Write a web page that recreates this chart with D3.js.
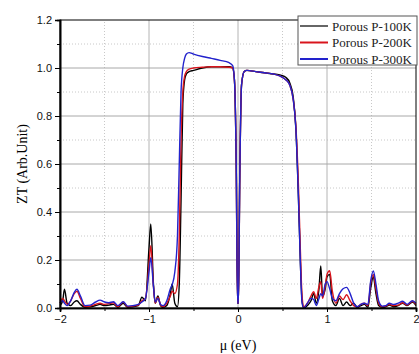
<!DOCTYPE html>
<html>
<head>
<meta charset="utf-8">
<script src="https://cdn.jsdelivr.net/npm/d3@7"></script>
<style>
  body { margin: 0; background: #fff; }
  svg { display: block; }
</style>
</head>
<body>
<div id="chart"></div>
<script>
// Data
const mu = [-2.00, -1.97, -1.95, -1.92, -1.88, -1.84, -1.81, -1.77, -1.72, -1.66, -1.60, -1.55, -1.50, -1.45, -1.40, -1.35, -1.29, -1.24, -1.18, -1.12, -1.08, -1.04, -1.00, -0.98, -0.95, -0.93, -0.90, -0.87, -0.84, -0.80, -0.76, -0.74, -0.71, -0.68, -0.66, -0.64, -0.62, -0.60, -0.58, -0.55, -0.50, -0.40, -0.30, -0.20, -0.10, -0.06, -0.04, -0.02, -0.005, 0.005, 0.02, 0.04, 0.07, 0.10, 0.20, 0.30, 0.40, 0.48, 0.54, 0.58, 0.62, 0.65, 0.68, 0.70, 0.72, 0.74, 0.78, 0.82, 0.85, 0.88, 0.91, 0.93, 0.95, 0.98, 1.00, 1.03, 1.06, 1.10, 1.14, 1.18, 1.22, 1.26, 1.30, 1.34, 1.38, 1.42, 1.46, 1.49, 1.52, 1.55, 1.58, 1.62, 1.66, 1.70, 1.75, 1.80, 1.85, 1.90, 1.96, 2.00];

const zt100 = [0.01, 0.03, 0.078, 0.02, 0.01, 0.025, 0.03, 0.015, 0.003, 0.005, 0.01, 0.015, 0.01, 0.012, 0.015, 0.003, 0.02, 0.003, 0.005, 0.01, 0.045, 0.03, 0.25, 0.35, 0.10, 0.02, 0.05, 0.01, 0.002, 0.01, 0.06, 0.10, 0.02, 0.005, 0.10, 0.45, 0.85, 0.95, 0.975, 0.985, 0.99, 1.0, 1.005, 1.005, 1.005, 1.0, 0.95, 0.6, 0.02, 0.02, 0.55, 0.93, 0.985, 0.99, 0.985, 0.98, 0.975, 0.97, 0.96, 0.94, 0.88, 0.75, 0.45, 0.2, 0.03, 0.0, 0.01, 0.03, 0.06, 0.02, 0.08, 0.175, 0.05, 0.08, 0.13, 0.14, 0.03, 0.01, 0.04, 0.01, 0.025, 0.01, 0.02, 0.002, 0.01, 0.015, 0.003, 0.08, 0.13, 0.06, 0.01, 0.003, 0.005, 0.012, 0.005, 0.01, 0.02, 0.01, 0.025, 0.01];

const zt200 = [0.02, 0.04, 0.03, 0.015, 0.03, 0.06, 0.07, 0.04, 0.005, 0.008, 0.015, 0.02, 0.015, 0.018, 0.022, 0.005, 0.025, 0.005, 0.008, 0.012, 0.03, 0.04, 0.18, 0.26, 0.09, 0.02, 0.045, 0.012, 0.005, 0.02, 0.05, 0.07, 0.06, 0.10, 0.3, 0.7, 0.9, 0.965, 0.985, 0.995, 1.0, 1.003, 1.005, 1.005, 1.003, 1.0, 0.95, 0.6, 0.02, 0.02, 0.55, 0.93, 0.985, 0.99, 0.985, 0.98, 0.975, 0.965, 0.95, 0.93, 0.87, 0.76, 0.5, 0.25, 0.05, 0.005, 0.02, 0.05, 0.068, 0.04, 0.09, 0.11, 0.04, 0.09, 0.14, 0.155, 0.07, 0.02, 0.05, 0.035, 0.055, 0.03, 0.01, 0.005, 0.015, 0.02, 0.01, 0.1, 0.14, 0.08, 0.02, 0.005, 0.008, 0.015, 0.01, 0.012, 0.022, 0.012, 0.028, 0.015];

const zt300 = [0.02, 0.03, 0.02, 0.01, 0.03, 0.065, 0.078, 0.05, 0.01, 0.012, 0.025, 0.033, 0.025, 0.022, 0.026, 0.01, 0.026, 0.008, 0.01, 0.015, 0.025, 0.04, 0.15, 0.21, 0.09, 0.025, 0.04, 0.015, 0.01, 0.03, 0.08, 0.096, 0.15, 0.3, 0.6, 0.9, 1.0, 1.04, 1.058, 1.064, 1.058, 1.048, 1.04, 1.032, 1.022, 1.01, 0.95, 0.6, 0.02, 0.02, 0.55, 0.93, 0.985, 0.99, 0.985, 0.98, 0.975, 0.965, 0.95, 0.93, 0.87, 0.75, 0.45, 0.2, 0.02, 0.0, 0.02, 0.04, 0.035, 0.01, 0.04, 0.06, 0.05, 0.1, 0.11, 0.08, 0.04, 0.03, 0.06, 0.08, 0.086, 0.06, 0.02, 0.005, 0.015, 0.02, 0.015, 0.11, 0.154, 0.1, 0.03, 0.008, 0.01, 0.02, 0.015, 0.02, 0.028, 0.015, 0.03, 0.02];

const seriesNames = ['Porous P-100K', 'Porous P-200K', 'Porous P-300K'];
const seriesColors = ['#000000', '#d8141c', '#2222cc'];
const xTicks = [-2, -1, 0, 1, 2];
const yTicks = [0.0, 0.2, 0.4, 0.6, 0.8, 1.0, 1.2];

const WIDTH = 419;
const HEIGHT = 354;
const margin = { top: 20, right: 3, bottom: 46, left: 60 };

const svg = d3.select('#chart')
  .append('svg')
  .attr('width', WIDTH)
  .attr('height', HEIGHT);

const x = d3.scaleLinear().domain([-2, 2]).range([margin.left, WIDTH - margin.right]);
const y = d3.scaleLinear().domain([0, 1.2]).range([HEIGHT - margin.bottom, margin.top]);

// grid: minor dotted, major solid
const minorX = [-1.5, -0.5, 0.5, 1.5];
const minorY = d3.range(0.1, 1.2, 0.2);
const grid = svg.append('g');
grid.selectAll('.mx').data(minorX).join('line')
  .attr('x1', d => x(d)).attr('x2', d => x(d))
  .attr('y1', y(0)).attr('y2', y(1.2))
  .attr('stroke', '#c8c8c8').attr('stroke-dasharray', '1,2');
grid.selectAll('.my').data(minorY).join('line')
  .attr('x1', x(-2)).attr('x2', x(2))
  .attr('y1', d => y(d)).attr('y2', d => y(d))
  .attr('stroke', '#c8c8c8').attr('stroke-dasharray', '1,2');
grid.selectAll('.gx').data([-1, 0, 1]).join('line')
  .attr('x1', d => x(d)).attr('x2', d => x(d))
  .attr('y1', y(0)).attr('y2', y(1.2))
  .attr('stroke', '#b4b4b4');
grid.selectAll('.gy').data([0.2, 0.4, 0.6, 0.8, 1.0]).join('line')
  .attr('x1', x(-2)).attr('x2', x(2))
  .attr('y1', d => y(d)).attr('y2', d => y(d))
  .attr('stroke', '#a8a8a8');

// curves
const series = [zt100, zt200, zt300];
const line = d3.line()
  .x((d, i) => x(mu[i]))
  .y(d => y(d))
  .curve(d3.curveMonotoneX);

svg.append('g')
  .selectAll('path')
  .data(series)
  .join('path')
  .attr('fill', 'none')
  .attr('stroke', (d, i) => seriesColors[i])
  .attr('stroke-width', 1.4)
  .attr('stroke-linejoin', 'round')
  .attr('d', line);

// frame
svg.append('rect')
  .attr('x', x(-2)).attr('y', y(1.2))
  .attr('width', x(2) - x(-2)).attr('height', y(0) - y(1.2))
  .attr('fill', 'none').attr('stroke', '#000').attr('stroke-width', 1);

// axes
const xAxis = svg.append('g')
  .attr('transform', `translate(0,${y(0)})`)
  .call(d3.axisBottom(x).tickValues(xTicks).tickFormat(d3.format('d')).tickSize(4).tickPadding(3));
svg.append('g')
  .attr('transform', `translate(0,${y(0)})`)
  .call(d3.axisBottom(x).tickValues(minorX).tickFormat('').tickSize(3));

const yAxis = svg.append('g')
  .attr('transform', `translate(${x(-2)},0)`)
  .call(d3.axisLeft(y).tickValues(yTicks).tickFormat(d3.format('.1f')).tickSize(5).tickPadding(3));
svg.append('g')
  .attr('transform', `translate(${x(-2)},0)`)
  .call(d3.axisLeft(y).tickValues(minorY).tickFormat('').tickSize(3));

svg.selectAll('.domain').attr('stroke-width', 1.6);
svg.selectAll('.tick text')
  .attr('font-family', 'Liberation Sans, Arial, sans-serif')
  .attr('font-size', 11)
  .attr('fill', '#111');

// axis titles
svg.append('text')
  .attr('x', x(0)).attr('y', 350)
  .attr('text-anchor', 'middle')
  .attr('font-family', 'Liberation Serif, Times New Roman, serif')
  .attr('font-size', 14)
  .text('μ (eV)');

svg.append('text')
  .attr('transform', `translate(27,${(y(0) + y(1.2)) / 2}) rotate(-90)`)
  .attr('text-anchor', 'middle')
  .attr('font-family', 'Liberation Serif, Times New Roman, serif')
  .attr('font-size', 14)
  .text('ZT (Arb.Unit)');

// legend
const legend = svg.append('g');
legend.append('rect')
  .attr('x', 298).attr('y', 16)
  .attr('width', 119).attr('height', 49)
  .attr('fill', '#fff').attr('stroke', '#555').attr('stroke-width', 1);
const items = legend.selectAll('g')
  .data(seriesNames)
  .join('g')
  .attr('transform', (d, i) => `translate(300,${26 + i * 16.5})`);
items.append('line')
  .attr('x1', 0).attr('x2', 28)
  .attr('stroke', (d, i) => seriesColors[i])
  .attr('stroke-width', (d, i) => i === 0 ? 1.2 : 2);
items.append('text')
  .attr('x', 32).attr('dy', '0.35em')
  .attr('font-family', 'Liberation Serif, Times New Roman, serif')
  .attr('font-size', 13)
  .attr('fill', '#222')
  .text(d => d);
</script>
</body>
</html>
